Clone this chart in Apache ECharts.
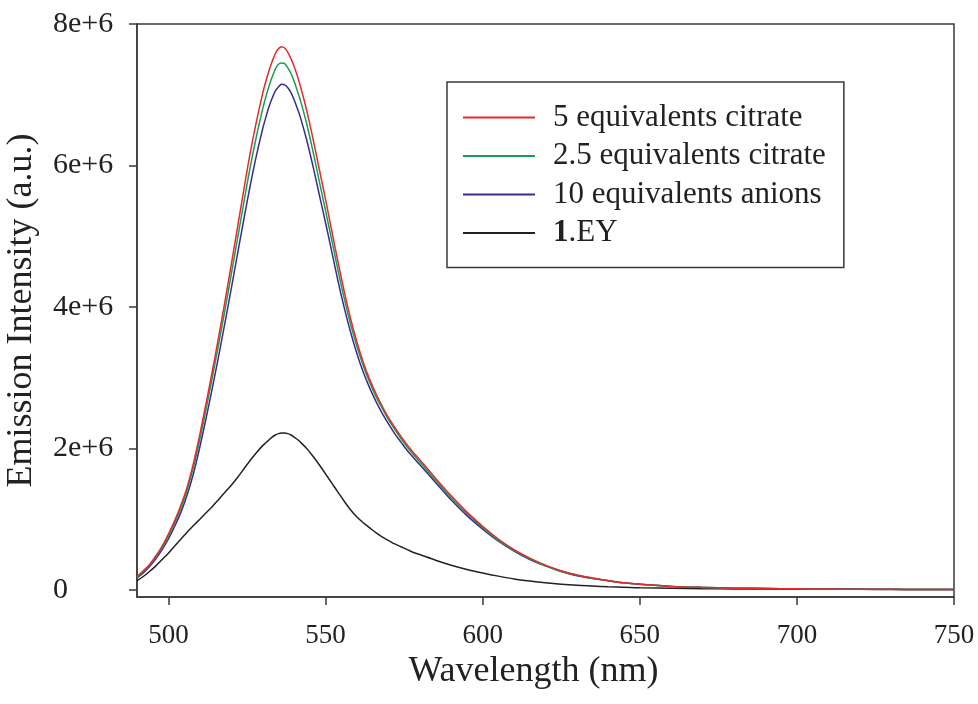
<!DOCTYPE html>
<html>
<head>
<meta charset="utf-8">
<script src="https://cdn.jsdelivr.net/npm/echarts@6/dist/echarts.min.js"></script>
<style>
html,body{margin:0;padding:0;background:#fff;}
#chart{width:978px;height:704px;}
</style>
</head>
<body>
<div id="chart"></div>
<script>
// Wavelength (nm)
var wavelengths = [490,492,494,496,498,500,502,504,506,508,510,512,514,516,518,520,522,524,526,528,530,
  531,532,533,534,535,536,537,538,539,540,541,
  542,544,546,548,550,552,554,556,558,560,562,564,566,568,570,572,574,576,578,580,
  585,590,595,600,605,610,615,620,625,630,635,640,645,650,
  660,670,680,690,700,710,720,730,740,750];

// Emission intensity, in units of 1e6 (a.u.)
var citrate5 = [0.19,0.27,0.36,0.48,0.62,0.79,0.98,1.20,1.46,1.80,2.20,2.64,3.10,3.58,4.08,4.60,5.13,5.66,6.17,6.62,7.02,
  7.19,7.34,7.47,7.58,7.65,7.68,7.66,7.60,7.51,7.40,7.27,
  7.12,6.78,6.38,5.95,5.52,5.07,4.63,4.21,3.83,3.50,3.22,2.98,2.78,2.60,2.44,2.30,2.17,2.05,1.94,1.84,
  1.58,1.33,1.10,0.90,0.72,0.57,0.45,0.35,0.27,0.21,0.17,0.13,0.10,0.08,
  0.05,0.035,0.025,0.02,0.015,0.012,0.01,0.008,0.006,0.005];

var citrate25 = [0.18,0.26,0.35,0.46,0.60,0.76,0.95,1.16,1.42,1.74,2.13,2.56,3.01,3.48,3.96,4.46,4.97,5.48,5.97,6.41,6.80,
  6.97,7.12,7.25,7.36,7.43,7.45,7.44,7.38,7.30,7.19,7.06,
  6.92,6.59,6.20,5.78,5.36,4.94,4.51,4.11,3.75,3.44,3.17,2.94,2.74,2.57,2.41,2.27,2.14,2.02,1.91,1.81,
  1.55,1.30,1.08,0.88,0.70,0.56,0.44,0.34,0.26,0.21,0.16,0.13,0.10,0.08,
  0.05,0.035,0.025,0.02,0.015,0.012,0.01,0.008,0.006,0.005];

var anions10 = [0.17,0.24,0.33,0.44,0.57,0.72,0.90,1.10,1.35,1.65,2.02,2.43,2.86,3.31,3.78,4.26,4.75,5.24,5.71,6.14,6.52,
  6.68,6.83,6.95,7.05,7.11,7.15,7.14,7.10,7.03,6.93,6.81,
  6.68,6.36,5.99,5.59,5.19,4.78,4.36,3.98,3.64,3.34,3.08,2.86,2.67,2.50,2.35,2.21,2.09,1.97,1.87,1.77,
  1.52,1.27,1.05,0.86,0.69,0.55,0.43,0.34,0.26,0.20,0.16,0.13,0.10,0.08,
  0.05,0.035,0.025,0.02,0.015,0.012,0.01,0.008,0.006,0.005];

var ey1 = [0.13,0.19,0.26,0.34,0.43,0.52,0.62,0.72,0.82,0.91,1.00,1.09,1.18,1.28,1.38,1.48,1.59,1.71,1.83,1.94,2.04,
  2.08,2.12,2.16,2.19,2.21,2.22,2.22,2.21,2.19,2.16,2.13,
  2.09,2.00,1.89,1.77,1.64,1.51,1.38,1.25,1.13,1.03,0.95,0.88,0.81,0.75,0.70,0.65,0.61,0.57,0.53,0.50,
  0.42,0.35,0.29,0.24,0.195,0.155,0.125,0.10,0.08,0.065,0.055,0.045,0.038,0.03,
  0.022,0.017,0.014,0.012,0.01,0.009,0.008,0.007,0.006,0.005];

var seriesNames = ['5 equivalents citrate','2.5 equivalents citrate','10 equivalents anions','1.EY'];
var xTicks = [500,550,600,650,700,750];
var yTicks = [0,2e6,4e6,6e6,8e6];

function pairs(arr){
  return wavelengths.map(function(w,i){ return [w, arr[i]*1e6]; });
}

var FONT = '"Liberation Serif","Times New Roman",serif';
var colors = ['#e8282b','#13a052','#3b2a90','#222222'];
var datasets = [citrate5, citrate25, anions10, ey1];

var chart = echarts.init(document.getElementById('chart'));
chart.setOption({
  backgroundColor:'#ffffff',
  animation:false,
  grid:{left:137, top:24, right:24, bottom:107, show:true, outerBoundsMode:'none', containLabel:false,
        borderColor:'#3a3a3a', borderWidth:1.5, backgroundColor:'transparent'},
  legend:{
    left:447, top:82, orient:'vertical',
    data:seriesNames,
    borderColor:'#3a3a3a', borderWidth:1.5, borderRadius:0,
    padding:[20,18,19,16],
    itemWidth:72, itemHeight:2, itemGap:7.5,
    icon:'rect',
    formatter:function(n){ return n==='1.EY' ? '{b|1}.EY' : n; },
    textStyle:{fontFamily:FONT, fontSize:31, color:'#222', padding:[0,0,0,13],
      rich:{b:{fontFamily:FONT, fontSize:31, fontWeight:'bold', color:'#222'}}}
  },
  xAxis:{
    type:'value', min:490, max:750,
    name:'Wavelength (nm)', nameLocation:'middle', nameGap:43,
    nameTextStyle:{fontFamily:FONT, fontSize:36, color:'#222', padding:[0,24,0,0]},
    axisLine:{show:true, onZero:false, lineStyle:{color:'#3a3a3a', width:1.5}},
    axisTick:{show:true, inside:false, length:8, customValues:xTicks, lineStyle:{color:'#3a3a3a', width:1.5}},
    axisLabel:{customValues:xTicks, margin:25, fontFamily:FONT, fontSize:27, color:'#222'},
    splitLine:{show:false}
  },
  yAxis:{
    type:'value', min:-1e5, max:8e6,
    name:'Emission Intensity (a.u.)', nameLocation:'middle', nameGap:97,
    nameTextStyle:{fontFamily:FONT, fontSize:36, color:'#222'},
    axisLine:{show:true, onZero:false, lineStyle:{color:'#3a3a3a', width:1.5}},
    axisTick:{show:true, inside:false, length:8, customValues:yTicks, lineStyle:{color:'#3a3a3a', width:1.5}},
    axisLabel:{customValues:yTicks, margin:84, align:'left', fontFamily:FONT, fontSize:30, color:'#222',
      formatter:function(v){ return v===0 ? '0' : (v/1e6)+'e+6'; }},
    splitLine:{show:false}
  },
  series: seriesNames.map(function(n,i){
    return {
      name:n, type:'line', data:pairs(datasets[i]),
      showSymbol:false, symbol:'none', smooth:0.3,
      color:colors[i],
      lineStyle:{color:colors[i], width:1.5},
      z: 10 - i
    };
  })
});
</script>
</body>
</html>
